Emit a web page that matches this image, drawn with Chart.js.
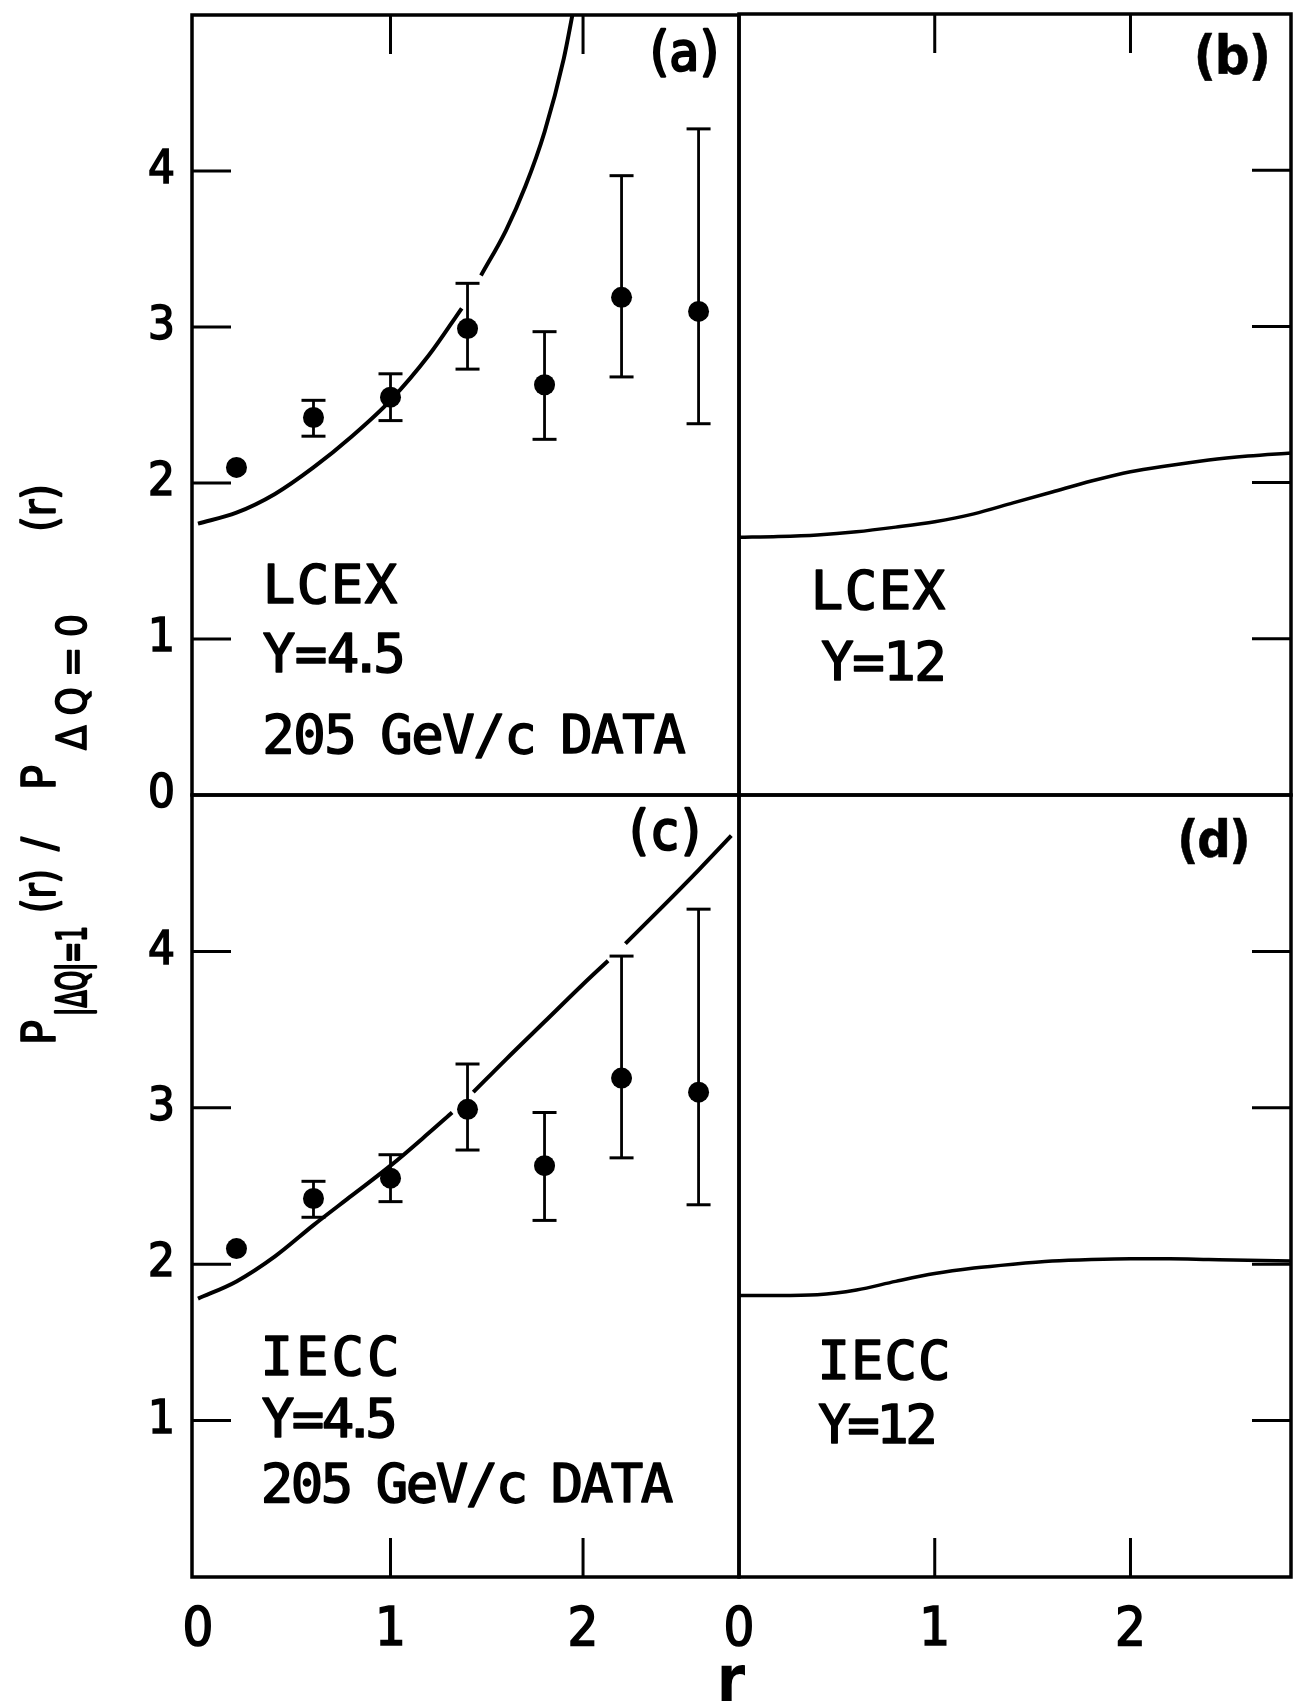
<!DOCTYPE html>
<html>
<head>
<meta charset="utf-8">
<title>P(|ΔQ|=1)/P(ΔQ=0) versus r</title>
<script src="https://cdn.jsdelivr.net/npm/chart.js@4.4.1/dist/chart.umd.min.js"></script>
<style>
  html, body { margin: 0; padding: 0; background: #fff; }
  #figure { position: relative; width: 1303px; height: 1704px; overflow: hidden; }
  #figure canvas { position: absolute; left: 0; top: 0; }
</style>
</head>
<body>
<div id="figure">
  <canvas id="panelA" width="1303" height="1704"></canvas>
  <canvas id="panelB" width="1303" height="1704"></canvas>
  <canvas id="panelC" width="1303" height="1704"></canvas>
  <canvas id="panelD" width="1303" height="1704"></canvas>
</div>
<script>
// ---------------- measured ratio, 205 GeV/c data ----------------
const rBins          = [0.2, 0.6, 1.0, 1.4, 1.8, 2.2, 2.6];
const ratioMeasured  = [2.10, 2.42, 2.55, 2.99, 2.63, 3.19, 3.10];
const ratioUpper     = [null, 2.53, 2.70, 3.28, 2.97, 3.97, 4.27];
const ratioLower     = [null, 2.30, 2.40, 2.73, 2.28, 2.68, 2.38];

// ---------------- model curves (null = pen lifted) ----------------
const lcexY45R   = [0, 0.2, 0.4, 0.6, 0.8, 1.0, 1.2, 1.37, 1.42, 1.47, 1.6, 1.7, 1.8, 1.9, 1.96];
const lcexY45Val = [1.74, 1.81, 1.93, 2.10, 2.30, 2.53, 2.82, 3.12, null, 3.33, 3.62, 3.90, 4.25, 4.72, 5.10];

const lcexY12R   = [0, 0.2, 0.4, 0.6, 0.8, 1.0, 1.2, 1.4, 1.6, 1.8, 2.0, 2.2, 2.4, 2.6, 2.82];
const lcexY12Val = [1.65, 1.655, 1.665, 1.685, 1.715, 1.75, 1.80, 1.87, 1.94, 2.01, 2.07, 2.11, 2.145, 2.17, 2.19];

const ieccY45R   = [0, 0.2, 0.4, 0.6, 0.8, 1.0, 1.2, 1.32, 1.375, 1.43, 1.6, 1.8, 2.0, 2.13, 2.175, 2.22, 2.4, 2.6, 2.77];
const ieccY45Val = [1.78, 1.89, 2.05, 2.25, 2.44, 2.63, 2.84, 2.97, null, 3.10, 3.31, 3.55, 3.79, 3.94, null, 4.05, 4.27, 4.52, 4.74];

const ieccY12R   = [0, 0.2, 0.4, 0.6, 0.8, 1.0, 1.2, 1.4, 1.6, 1.8, 2.0, 2.2, 2.4, 2.6, 2.82];
const ieccY12Val = [1.80, 1.80, 1.805, 1.835, 1.89, 1.94, 1.975, 2.00, 2.02, 2.03, 2.035, 2.035, 2.03, 2.025, 2.02];

// ---------------- axis ticks ----------------
const yTickValues   = [1, 2, 3, 4];
const yLabelsUpper  = [0, 1, 2, 3, 4];
const yLabelsLower  = [1, 2, 3, 4];
const xTickValues   = [1, 2];
const xLabelValues  = [0, 1, 2];

// ---------------- page geometry and style ----------------
const PAGE_W = 1303, PAGE_H = 1704;
const L = 192, M = 739, R = 1291;      // panel column edges
const T = 14, H = 795, B = 1577;       // panel row edges
const INK = '#000';
const FONT = '"DejaVu Sans Condensed", "DejaVu Sans", sans-serif';
const LETTERING = '"DejaVu Sans Mono", "DejaVu Sans Condensed", monospace';
const FRAME_W = 3.5, TICK_W = 3, TICK_LEN = 39;
const INK_WEIGHT = 1.6;                // extra stroke that thickens the lettering

const X_LEFT  = { min: -0.031, max: 2.81 };
const X_RIGHT = { min: 0, max: 2.82 };

// ---------------- helpers ----------------
const toPoints = (xs, ys) => xs.map((x, i) => ({ x, y: ys[i] }));

function errorStems() {
  const pts = [];
  rBins.forEach((r, i) => {
    if (ratioUpper[i] == null) return;
    pts.push({ x: r, y: ratioLower[i] }, { x: r, y: ratioUpper[i] }, { x: r, y: null });
  });
  return pts;
}
function errorCaps() {
  const pts = [];
  rBins.forEach((r, i) => {
    if (ratioUpper[i] == null) return;
    pts.push({ x: r, y: ratioLower[i] }, { x: r, y: ratioUpper[i] });
  });
  return pts;
}

function curveSet(points, width) {
  return { data: points, showLine: true, borderColor: INK, borderWidth: width,
           pointRadius: 0, cubicInterpolationMode: 'monotone', clip: 0, order: 3 };
}
function dataSets() {
  return [
    { data: toPoints(rBins, ratioMeasured), showLine: false, pointRadius: 10.5,
      pointBackgroundColor: INK, pointBorderWidth: 0, order: 0 },
    { data: errorCaps(), showLine: false, pointStyle: 'line', pointRadius: 12,
      pointBorderColor: INK, pointBorderWidth: 3, order: 1 },
    { data: errorStems(), showLine: true, borderColor: INK, borderWidth: 2.8,
      pointRadius: 0, tension: 0, order: 2 }
  ];
}

function xAxis(range, labelled) {
  return {
    type: 'linear', min: range.min, max: range.max, display: labelled, position: 'bottom',
    grid: { display: false }, border: { display: false },
    afterBuildTicks: s => { s.ticks = xLabelValues.map(v => ({ value: v })); },
    afterFit: s => { if (labelled) s.height = PAGE_H - B; s.paddingLeft = 0; s.paddingRight = 0; },
    ticks: { font: { family: FONT, size: 54 }, color: INK, padding: 14,
             textStrokeColor: INK, textStrokeWidth: INK_WEIGHT,
             maxRotation: 0, minRotation: 0, autoSkip: false, callback: v => String(v) }
  };
}
function yAxis(labels) {
  const shown = labels !== null;
  return {
    type: 'linear', min: 0, max: 5, display: shown, position: 'left',
    grid: { display: false }, border: { display: false },
    afterBuildTicks: s => { s.ticks = (labels || yTickValues).map(v => ({ value: v })); },
    afterFit: s => { if (shown) s.width = L; s.paddingTop = 0; s.paddingBottom = 0; },
    ticks: { font: { family: FONT, size: 47 }, color: INK, padding: 9,
             textStrokeColor: INK, textStrokeWidth: INK_WEIGHT,
             crossAlign: 'center', callback: v => String(v) }
  };
}

// hand-lettered strings: every glyph centred in its own cell
function letter(ctx, text, x0, baseline, pitch, space) {
  let x = x0;
  for (const ch of text) {
    const adv = ch === ' ' ? space : (ch === '.' ? pitch * 0.45 : pitch);
    if (ch !== ' ') {
      ctx.fillText(ch, x + adv / 2, baseline);
      ctx.strokeText(ch, x + adv / 2, baseline);
    }
    x += adv;
  }
  return x;
}

// vertical title P_{|ΔQ|=1}(r) / P_{ΔQ=0}(r), read bottom to top;
// "at" is the distance of each piece from the lower end of the title,
// "len" the length a piece is fitted into
const TITLE_PARTS = [
  { t: 'P',      at: 2,   len: 27 },
  { t: '|ΔQ|=1', at: 31,  len: 90,  sub: true },
  { t: '(r)',    at: 134, len: 44 },
  { t: '/',      at: 196, len: 20 },
  { t: 'P',      at: 257, len: 25 },
  { t: 'ΔQ=0',   at: 297, len: 136, sub: true },
  { t: '(r)',    at: 515, len: 48 }
];
function drawFigureText(ctx) {
  ctx.save();
  ctx.translate(0, 1047);
  ctx.rotate(-Math.PI / 2);
  ctx.textAlign = 'left';
  ctx.textBaseline = 'alphabetic';
  TITLE_PARTS.forEach(p => {
    const size = p.sub ? 40 : 46;
    const base = p.sub ? 86 : 55;
    ctx.font = `${size}px ${FONT}`;
    const chars = [...p.t];
    const widths = chars.map(ch => ctx.measureText(ch).width);
    const natural = widths.reduce((s, w) => s + w, 0);
    // spread or squeeze the glyph run so that it fills its length
    let scale = 1, gap = 0;
    if (natural > p.len) scale = p.len / natural;
    else if (chars.length > 1) gap = (p.len - natural) / (chars.length - 1);
    let x = p.at;
    chars.forEach((ch, i) => {
      ctx.save();
      ctx.translate(x, base);
      ctx.scale(scale, 1);
      ctx.lineWidth = INK_WEIGHT / scale;
      ctx.fillText(ch, 0, 0);
      ctx.strokeText(ch, 0, 0);
      ctx.restore();
      x += widths[i] * scale + gap;
    });
  });
  ctx.restore();

  ctx.font = `bold 64px ${FONT}`;
  ctx.textAlign = 'center';
  ctx.fillText('r', 731, 1701);
}

const panelDecor = {
  id: 'panelDecor',
  afterDraw(chart, args, o) {
    const { ctx, chartArea: a } = chart;
    const xs = chart.scales.x, ys = chart.scales.y;
    ctx.save();
    ctx.strokeStyle = INK;
    ctx.fillStyle = INK;
    ctx.lineWidth = FRAME_W;
    ctx.strokeRect(a.left, a.top, a.right - a.left, a.bottom - a.top);

    ctx.lineWidth = TICK_W;
    ctx.beginPath();
    yTickValues.forEach(v => {
      const py = ys.getPixelForValue(v);
      if (o.yTicks === 'left') { ctx.moveTo(a.left, py); ctx.lineTo(a.left + TICK_LEN, py); }
      else { ctx.moveTo(a.right, py); ctx.lineTo(a.right - TICK_LEN, py); }
    });
    xTickValues.forEach(v => {
      const px = xs.getPixelForValue(v);
      if (o.xTicks === 'top') { ctx.moveTo(px, a.top); ctx.lineTo(px, a.top + TICK_LEN); }
      else { ctx.moveTo(px, a.bottom); ctx.lineTo(px, a.bottom - TICK_LEN); }
    });
    ctx.stroke();

    ctx.textAlign = 'center';
    ctx.textBaseline = 'alphabetic';
    ctx.lineJoin = 'round';
    (o.texts || []).forEach(t => {
      ctx.font = `${t.bold ? 'bold ' : ''}${t.size}px ${t.mono === false ? FONT : LETTERING}`;
      ctx.lineWidth = t.weight !== undefined ? t.weight : INK_WEIGHT;
      letter(ctx, t.text, t.x, t.y, t.pitch, t.space !== undefined ? t.space : t.pitch * 0.8);
    });
    if (o.figure) drawFigureText(ctx);
    ctx.restore();
  }
};

function makePanel(id, cfg) {
  return new Chart(document.getElementById(id), {
    type: 'scatter',
    data: { datasets: cfg.datasets },
    options: {
      responsive: false, animation: false, devicePixelRatio: 1, events: [],
      layout: { padding: cfg.padding },
      scales: { x: cfg.x, y: cfg.y },
      plugins: { legend: { display: false }, tooltip: { enabled: false }, panelDecor: cfg.decor }
    },
    plugins: [panelDecor]
  });
}

// (a) LCEX, Y = 4.5, with data
makePanel('panelA', {
  datasets: [...dataSets(), curveSet(toPoints(lcexY45R, lcexY45Val), 4)],
  padding: { left: 0, top: T, right: PAGE_W - M, bottom: PAGE_H - H },
  x: xAxis(X_LEFT, false), y: yAxis(yLabelsUpper),
  decor: { yTicks: 'left', xTicks: 'top', texts: [
    { text: 'LCEX', x: 262, y: 603, pitch: 34, size: 54 },
    { text: 'Y=4.5', x: 263, y: 672, pitch: 32, size: 54 },
    { text: '205 GeV/c DATA', x: 263, y: 753, pitch: 31, space: 25, size: 54 },
    { text: '(a)', x: 647, y: 70, pitch: 25, size: 54, weight: 2.4, mono: false }
  ] }
});

// (b) LCEX, Y = 12
makePanel('panelB', {
  datasets: [curveSet(toPoints(lcexY12R, lcexY12Val), 3.5)],
  padding: { left: M, top: T, right: PAGE_W - R, bottom: PAGE_H - H },
  x: xAxis(X_RIGHT, false), y: yAxis(null),
  decor: { yTicks: 'right', xTicks: 'top', texts: [
    { text: 'LCEX', x: 810, y: 609, pitch: 34, size: 54 },
    { text: 'Y = 12', x: 822, y: 680, pitch: 31, space: 0, size: 54 },
    { text: '(b)', x: 1191, y: 74, pitch: 27.5, size: 54, bold: true, weight: 0.5, mono: false }
  ] }
});

// (c) IECC, Y = 4.5, with data
makePanel('panelC', {
  datasets: [...dataSets(), curveSet(toPoints(ieccY45R, ieccY45Val), 4)],
  padding: { left: 0, top: H, right: PAGE_W - M, bottom: 0 },
  x: xAxis(X_LEFT, true), y: yAxis(yLabelsLower),
  decor: { yTicks: 'left', xTicks: 'bottom', figure: true, texts: [
    { text: 'IECC', x: 259, y: 1375, pitch: 35.5, size: 54 },
    { text: 'Y=4.5', x: 263, y: 1437, pitch: 30, size: 54 },
    { text: '205 GeV/c DATA', x: 262, y: 1502, pitch: 30, space: 25, size: 54 },
    { text: '(c)', x: 626, y: 849, pitch: 26, size: 54, weight: 2.4, mono: false }
  ] }
});

// (d) IECC, Y = 12
makePanel('panelD', {
  datasets: [curveSet(toPoints(ieccY12R, ieccY12Val), 3.5)],
  padding: { left: M, top: H, right: PAGE_W - R, bottom: 0 },
  x: xAxis(X_RIGHT, true), y: yAxis(null),
  decor: { yTicks: 'right', xTicks: 'bottom', texts: [
    { text: 'IECC', x: 817, y: 1379, pitch: 33.5, size: 54 },
    { text: 'Y = 12', x: 820, y: 1443, pitch: 29, space: 0, size: 54 },
    { text: '(d)', x: 1175, y: 857, pitch: 26, size: 52, bold: true, weight: 0.5, mono: false }
  ] }
});
</script>
</body>
</html>
